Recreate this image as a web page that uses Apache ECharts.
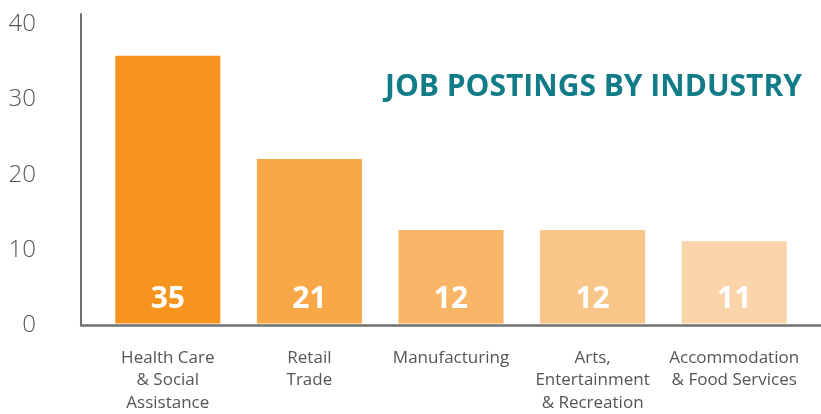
<!DOCTYPE html>
<html>
<head>
<meta charset="utf-8">
<script src="https://cdn.jsdelivr.net/npm/echarts@6/dist/echarts.min.js"></script>
<style>
html,body{margin:0;padding:0;background:#fff;}
#chart{width:821px;height:414px;}
</style>
</head>
<body>
<div id="chart"></div>
<script>
const categories = ['Health Care\n& Social\nAssistance', 'Retail\nTrade', 'Manufacturing', 'Arts,\nEntertainment\n& Recreation', 'Accommodation\n& Food Services'];
const barValues = [35.8, 22.0, 12.5, 12.5, 11.0];
const valueLabels = ['35', '21', '12', '12', '11'];
const barColors = ['#F7941E', '#F9A847', '#F8B566', '#F9C589', '#FBD5A9'];
const yTicks = [0, 10, 20, 30, 40];
const titleText = 'JOB POSTINGS BY INDUSTRY';

const chart = echarts.init(document.getElementById('chart'));
const yMax = 41.4;
chart.setOption({
  animation: false,
  title: {
    text: titleText, right: 14, top: 67,
    textStyle: {fontFamily: 'Open Sans', fontWeight: 700, fontSize: 30, color: '#117C87'}
  },
  grid: [
    {left: 81, right: 0, top: 14, bottom: 89},
    {left: 97, width: 708, top: 14, bottom: 89}
  ],
  xAxis: [
    {gridIndex: 0, type: 'value', min: 0, max: 1, axisLine: {show: true, onZero: false, lineStyle: {color: '#707070', width: 2.5}},
     axisTick: {show: false}, axisLabel: {show: false}, splitLine: {show: false}},
    {gridIndex: 1, type: 'category', data: categories, axisLine: {show: false}, axisTick: {show: false},
     axisLabel: {interval: 0, margin: 23, lineHeight: 22.5, fontFamily: 'Open Sans', fontSize: 17, color: '#555'}}
  ],
  yAxis: [
    {gridIndex: 0, type: 'value', min: 0, max: yMax, interval: 10,
     axisLine: {show: true, lineStyle: {color: '#707070', width: 2}}, axisTick: {show: false}, splitLine: {show: false},
     axisLabel: {margin: 45, fontFamily: 'Open Sans', fontWeight: 300, fontSize: 24, color: '#555',
       formatter: v => yTicks.includes(v) ? String(v) : ''}},
    {gridIndex: 1, type: 'value', min: 0, max: yMax, show: false}
  ],
  series: [{
    type: 'bar', xAxisIndex: 1, yAxisIndex: 1, barWidth: 105,
    data: barValues.map((v, i) => ({value: v, itemStyle: {color: barColors[i]}})),
    label: {show: true, position: 'insideBottom', distance: 9, color: '#fff',
      fontFamily: 'Open Sans', fontWeight: 700, fontSize: 30,
      formatter: p => valueLabels[p.dataIndex]}
  }]
});
</script>
</body>
</html>
